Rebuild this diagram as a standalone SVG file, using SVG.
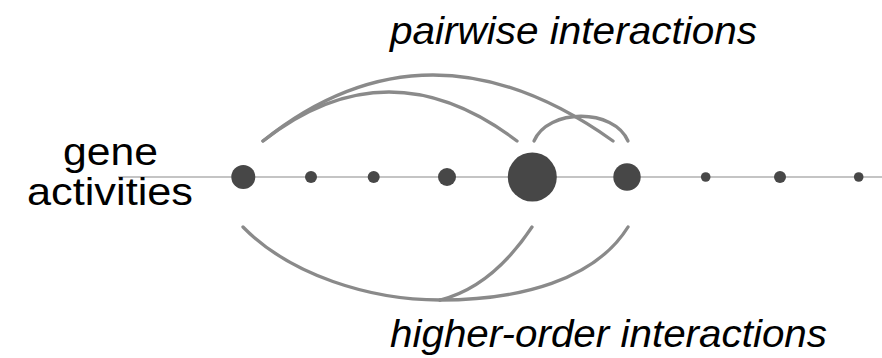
<svg xmlns="http://www.w3.org/2000/svg" width="882" height="358" viewBox="0 0 882 358">
  <style>
    .lbl { font-family: "Liberation Sans", Arial, sans-serif; font-size: 39px; fill: #000; }
    .it { font-style: italic; }
    .node { fill: #474747; }
    .axis { stroke: #8a8a8a; stroke-width: 1.2; fill: none; }
    .edge { stroke: #8a8a8a; stroke-width: 3.3; fill: none; stroke-linecap: round; }
  </style>
  <rect width="882" height="358" fill="#ffffff"/>
  <g id="axis">
    <line class="axis" x1="118" y1="177" x2="882" y2="177"/>
  </g>
  <g id="connectors">
    <path class="edge" d="M263,141 Q428,9 613,141"/>
    <path class="edge" d="M263,141 Q388,43 517,141"/>
    <path class="edge" d="M534,141 C548,108 614,108 628,141"/>
    <path class="edge" d="M243,227 C290,275 370,300 440,300"/>
    <path class="edge" d="M440,300 C520,300 595,280 628,227"/>
    <path class="edge" d="M532,227 C510,260 480,290 440,300"/>
  </g>
  <g id="n1"><circle class="node" cx="243.3" cy="177" r="12"/></g>
  <g id="n2"><circle class="node" cx="311" cy="177" r="6"/></g>
  <g id="n3"><circle class="node" cx="373.7" cy="177" r="6"/></g>
  <g id="n4"><circle class="node" cx="447" cy="177" r="9"/></g>
  <g id="n5"><circle class="node" cx="532.3" cy="177" r="24.5"/></g>
  <g id="n6"><circle class="node" cx="627" cy="177" r="13.7"/></g>
  <g id="n7"><circle class="node" cx="705.7" cy="177" r="4.8"/></g>
  <g id="n8"><circle class="node" cx="780" cy="177" r="6"/></g>
  <g id="n9"><circle class="node" cx="858.7" cy="177" r="4.8"/></g>
  <g id="label-gene">
    <text class="lbl" x="63" y="165" textLength="95" lengthAdjust="spacingAndGlyphs">gene</text>
    <text class="lbl" x="27" y="205" textLength="166" lengthAdjust="spacingAndGlyphs">activities</text>
  </g>
  <g id="label-pairwise">
    <text class="lbl it" x="390" y="44" textLength="367" lengthAdjust="spacingAndGlyphs">pairwise interactions</text>
  </g>
  <g id="label-higher">
    <text class="lbl it" x="390" y="347" textLength="437" lengthAdjust="spacingAndGlyphs">higher-order interactions</text>
  </g>
</svg>
